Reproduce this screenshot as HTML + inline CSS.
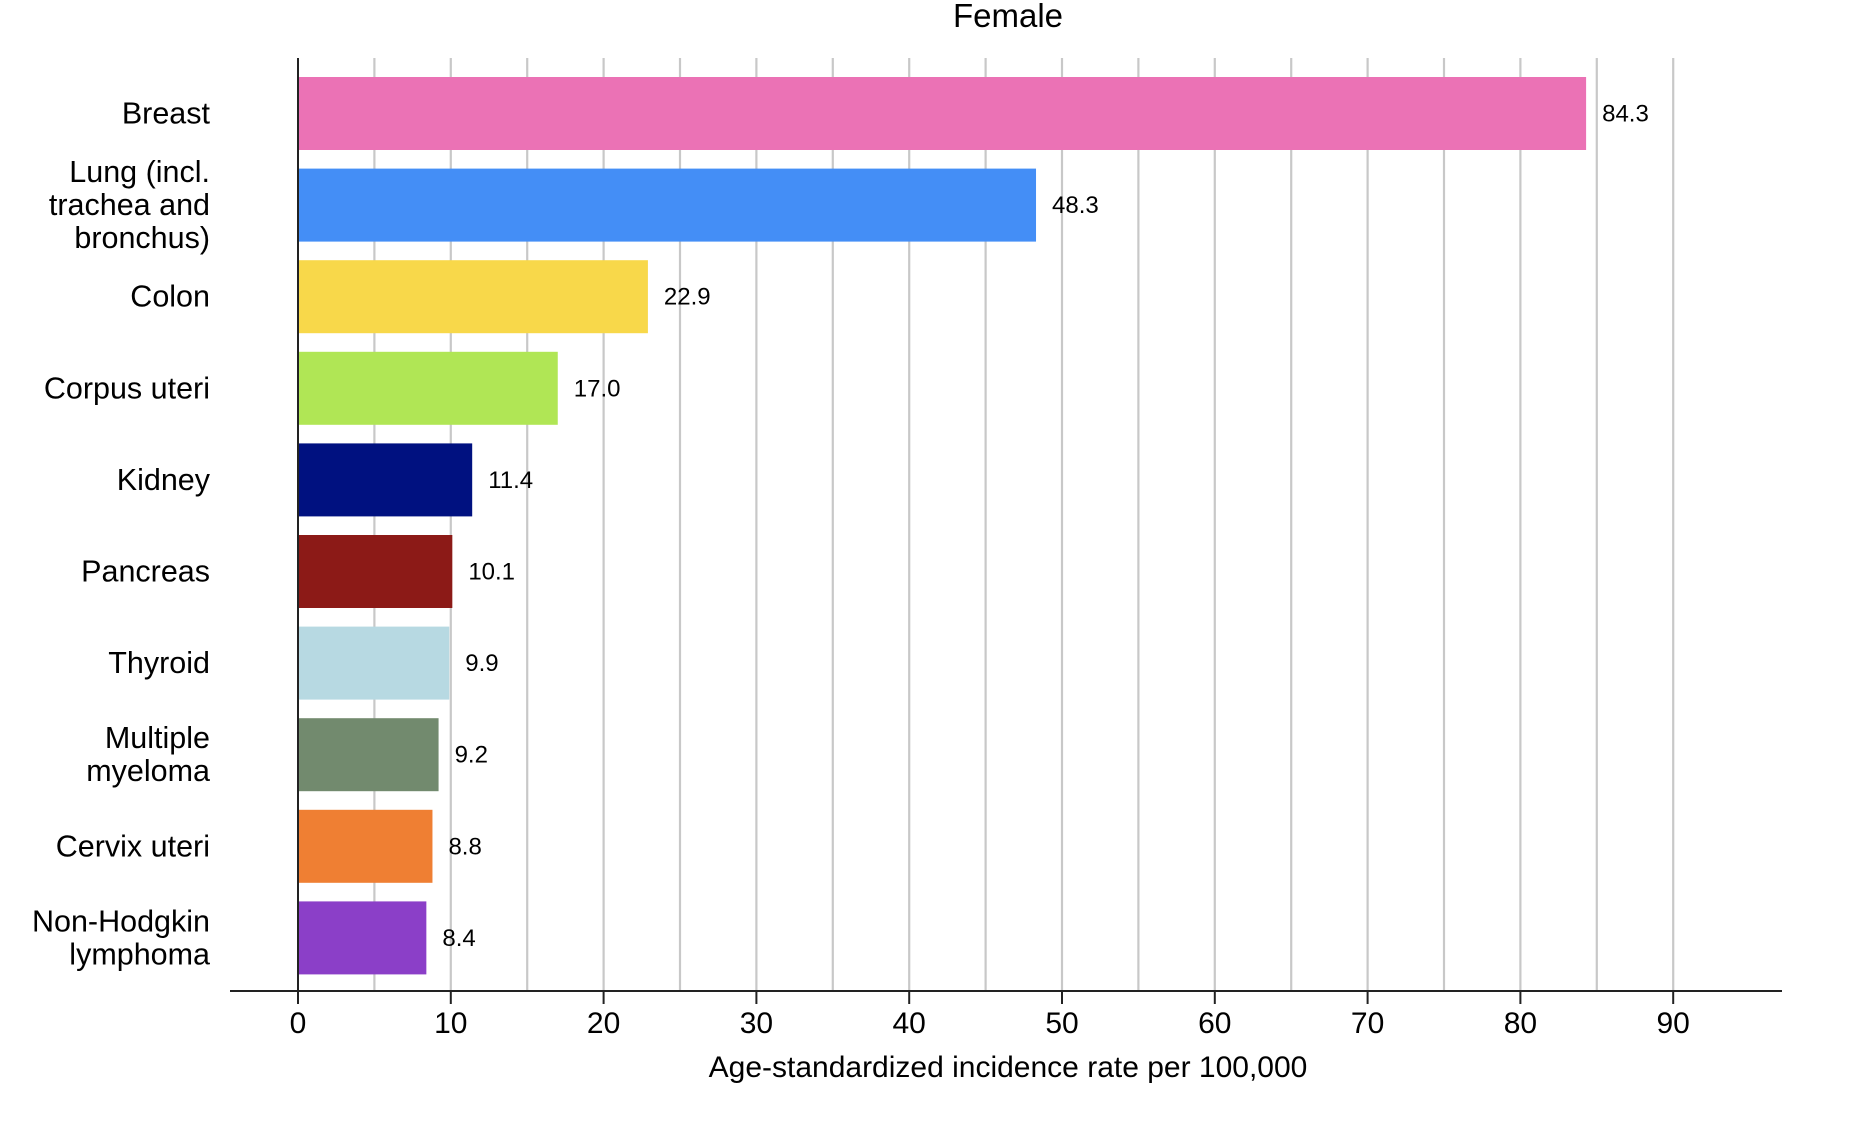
<!DOCTYPE html>
<html><head><meta charset="utf-8"><style>
html,body{margin:0;padding:0;background:#fff}
svg{display:block}
text{font-family:"Liberation Sans",Arial,sans-serif;fill:#000}
</style></head><body>
<svg width="1852" height="1148" viewBox="0 0 1852 1148" xmlns="http://www.w3.org/2000/svg">
<g id="grid"></g>
<g id="bars"></g>
<g id="axes"></g>
<text x="1008" y="27" font-size="33" text-anchor="middle">Female</text>
<text x="1008" y="1077" font-size="30" text-anchor="middle">Age-standardized incidence rate per 100,000</text>
</svg>
<script>
const categories = [["Breast"],["Lung (incl.","trachea and","bronchus)"],["Colon"],["Corpus uteri"],["Kidney"],["Pancreas"],["Thyroid"],["Multiple","myeloma"],["Cervix uteri"],["Non-Hodgkin","lymphoma"]];
const values = [84.3,48.3,22.9,17.0,11.4,10.1,9.9,9.2,8.8,8.4];
const colors = ["#eb72b5","#448ef6","#f8d84a","#b0e655","#001180","#8c1a17","#b7d9e2","#728a6e","#ef7f33","#8b3fc8"];
const xTicks = [0,10,20,30,40,50,60,70,80,90];
const NS="http://www.w3.org/2000/svg";
const x0=298, unit=15.28, top0=77, pitch=91.6, barH=73, axisY=991;
const x=v=>x0+v*unit;
function mk(tag,attrs,parent){const e=document.createElementNS(NS,tag);for(const k in attrs)e.setAttribute(k,attrs[k]);parent.appendChild(e);return e;}
const grid=document.getElementById('grid'),bars=document.getElementById('bars'),axes=document.getElementById('axes');
for(let v=5;v<=90;v+=5){const g=mk('line',{x1:x(v),x2:x(v),y1:58,y2:axisY,stroke:'#c8c8c8','stroke-width':2.2},grid);

}
values.forEach((v,i)=>{
 const y=top0+i*pitch;
 const r=mk('rect',{x:x0,y:y,width:x(v)-x0,height:barH,fill:colors[i]},bars);
 
 
 const t=mk('text',{x:x(v)+16,y:y+barH/2+8,'font-size':24},bars);t.textContent=v.toFixed(1);
 
 
 const lines=categories[i],lh=33;
 const c=mk('text',{x:210,'font-size':30.5,'text-anchor':'end'},axes);
 
 
 lines.forEach((ln,j)=>{const s=mk('tspan',{x:210,y:y+barH/2+10+(j-(lines.length-1)/2)*lh},c);s.textContent=ln;});
});
const ya=mk('line',{x1:x0,x2:x0,y1:58,y2:axisY,stroke:'#222','stroke-width':2},axes);


const xa=mk('line',{x1:230,x2:1782,y1:axisY,y2:axisY,stroke:'#222','stroke-width':2},axes);


xTicks.forEach(v=>{
 const tk=mk('line',{x1:x(v),x2:x(v),y1:axisY,y2:axisY+13,stroke:'#222','stroke-width':2},axes);
 
 
 const t=mk('text',{x:x(v),y:1033,'font-size':30,'text-anchor':'middle'},axes);t.textContent=v;
 
 
});
</script>
</body></html>
